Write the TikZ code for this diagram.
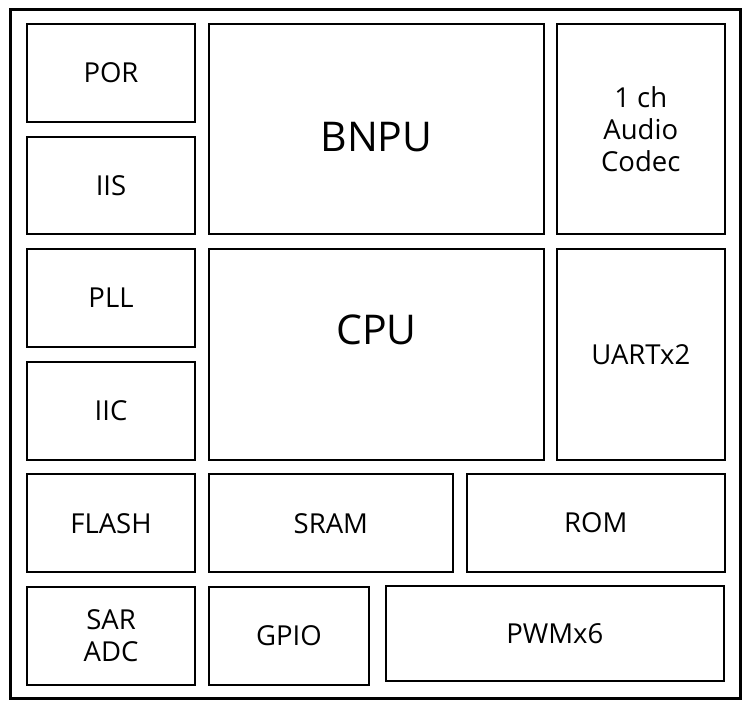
\documentclass[tikz,border=0pt]{standalone}
\usepackage{fontspec}
\setmainfont{Open Sans}
\usetikzlibrary{positioning}

\tikzset{
  blk/.style={draw, line width=2pt, inner sep=0pt, align=center,
    font=\fontsize{27.5}{32.3}\selectfont},
  big/.style={inner sep=0pt, font=\fontsize{41}{48}\selectfont},
  colL/.style={blk, minimum width=168pt, minimum height=97.7pt},
  colR/.style={blk, minimum width=167.5pt, minimum height=210.3pt}
}

\begin{document}
\begin{tikzpicture}[x=1pt, y=-1pt]
    \useasboundingbox (0,0) rectangle (754,707);
    \draw[line width=3pt] (10.5,9.5) rectangle (740,698);

    % left column
    \node[colL] (por)   at (111,72.85)  {POR};
    \node[colL] (iis)   at (111,185.45) {IIS};
    \node[colL] (pll)   at (111,298.05) {PLL};
    \node[colL] (iic)   at (111,410.65) {IIC};
    \node[colL] (flash) at (111,523.25) {FLASH};
    \node[colL] (sar)   at (111,635.85) {SAR\\ADC};

    % core
    \node[blk, minimum width=335pt, minimum height=210.3pt] (bnpu) at (376.5,129.15) {};
    \node[big] (bnpuText) at ([yshift=-7.5pt]bnpu.center) {BNPU};
    \node[blk, minimum width=335pt, minimum height=210.3pt] (cpu) at (376.5,354.35) {};
    \node[big] (cpuText) at ([yshift=25pt]cpu.center) {CPU};

    % right column
    \node[colR] (codec) at (640.75,129.15) {1 ch\\Audio\\Codec};
    \node[colR] (uart)  at (640.75,354.35) {UARTx2};

    % bottom rows
    \node[blk, minimum width=243.7pt, minimum height=97.7pt] (sram) at (330.85,523.25) {SRAM};
    \node[blk, minimum width=257.5pt, minimum height=98pt] (rom) at (595.75,523) {ROM};
    \node[blk, minimum width=160pt, minimum height=97.7pt] (gpio) at (289,635.85) {GPIO};
    \node[blk, minimum width=338.3pt, minimum height=95pt] (pwm) at (554.85,633.5) {PWMx6};
\end{tikzpicture}
\end{document}
